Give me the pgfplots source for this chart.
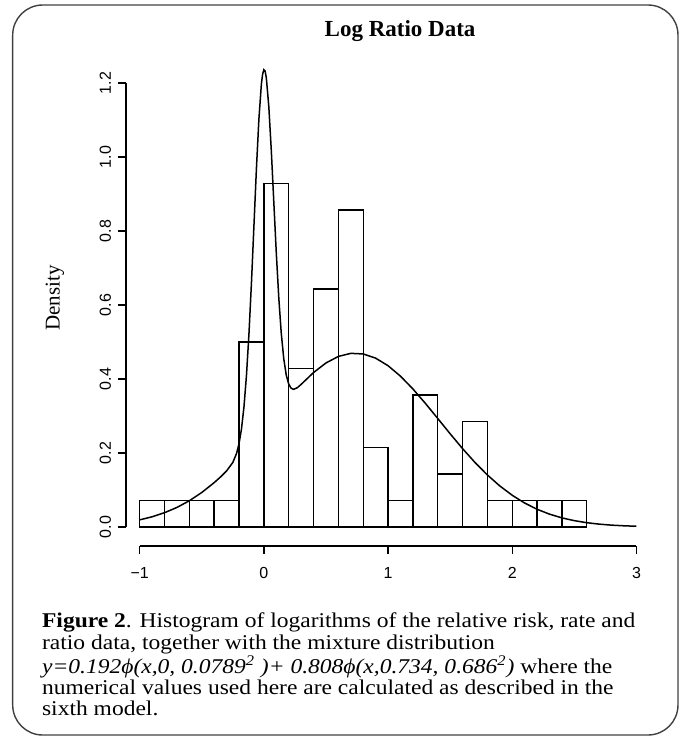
\documentclass[border=0pt]{standalone}
\usepackage{fontspec}
\setmainfont{Liberation Serif}
\newfontfamily\captionserif{Liberation Serif}[FakeStretch=1.12]
\newfontfamily\ticksans{Liberation Sans}
\usepackage{pgfplots}
\pgfplotsset{compat=1.18}

\begin{document}
\begin{tikzpicture}
\useasboundingbox (0,0) rectangle (340.5pt,-368pt);
% frame round the figure and its caption
\draw[rounded corners=15pt, line width=0.7pt, black!75] (6.35pt,-2.5pt) rectangle (339pt,-367.5pt);

\begin{axis}[
  at={(63pt,-273pt)}, anchor=south west,
  x=62.1pt, y=185pt,
  xmin=-1.11, xmax=3.11, ymin=-0.0514, ymax=1.29,
  clip=false,
  axis lines=left,
  axis line style={draw=none},
  tick align=outside,
  major tick length=4pt,
  every tick/.style={black, line width=0.75pt},
  xtick={-1,0,1,2,3},
  xticklabels={−1,0,1,2,3},
  ytick={0,0.2,0.4,0.6,0.8,1.0,1.2},
  yticklabels={0.0,0.2,0.4,0.6,0.8,1.0,1.2},
  ticklabel style={font=\ticksans\fontsize{8}{9.6}\selectfont},
  yticklabel style={rotate=90, anchor=south},
  xticklabel style={anchor=north, yshift=-3pt},
  ylabel={Density},
  ylabel style={at={(axis description cs:-0.1355,0.5)}, anchor=center,
                font=\fontsize{10.5}{12}\selectfont},
  title={Log Ratio Data},
  every axis title/.style={at={(axis description cs:0.523,1.0262)}, anchor=base,
               font=\bfseries\fontsize{11.5}{13}\selectfont},
]
% histogram, density = count/14 (n = 70, bin width 0.2)
\addplot[ybar interval, draw=black, fill=none, line width=0.7pt] coordinates {
  (-1,0.0714) (-0.8,0.0714) (-0.6,0.0714) (-0.4,0.0714) (-0.2,0.5)
  (0,0.9286) (0.2,0.4286) (0.4,0.6429) (0.6,0.8571) (0.8,0.2143)
  (1.0,0.0714) (1.2,0.3571) (1.4,0.1429) (1.6,0.2857) (1.8,0.0714)
  (2.0,0.0714) (2.2,0.0714) (2.4,0.0714) (2.6,0.0714)
};
% mixture density
\addplot[black, line width=0.75pt] coordinates {
  (-1,0.0193) (-0.9,0.0275) (-0.8,0.0386) (-0.7,0.0528) (-0.6,0.0709)
  (-0.5,0.0932) (-0.4,0.1199) (-0.35,0.1349) (-0.3,0.1516) (-0.25,0.1744)
  (-0.22,0.1986) (-0.2,0.2251) (-0.18,0.2654) (-0.16,0.3252) (-0.14,0.4098)
  (-0.12,0.5219) (-0.1,0.6592) (-0.08,0.8130) (-0.06,0.9675) (-0.04,1.1023)
  (-0.02,1.1969) (-0.01,1.2240) (0,1.2359) (0.01,1.2323) (0.02,1.2135)
  (0.04,1.1354) (0.06,1.0170) (0.08,0.8789) (0.1,0.7414) (0.12,0.6202)
  (0.14,0.5241) (0.16,0.4553) (0.18,0.4111) (0.2,0.3862) (0.22,0.3748)
  (0.24,0.3721) (0.27,0.3766) (0.3,0.3854) (0.4,0.4174) (0.5,0.4433)
  (0.6,0.4610) (0.7,0.4693) (0.8,0.4677) (0.9,0.4563) (1.0,0.4359)
  (1.1,0.4076) (1.2,0.3731) (1.3,0.3343) (1.4,0.2933) (1.5,0.2519)
  (1.6,0.2118) (1.7,0.1743) (1.8,0.1405) (1.9,0.1108) (2.0,0.0856)
  (2.1,0.0647) (2.2,0.0479) (2.3,0.0347) (2.4,0.0246) (2.5,0.0171)
  (2.6,0.0116) (2.7,0.0077) (2.8,0.0050) (2.9,0.0032) (3.0,0.0020)
};
% R style detached axis lines
\draw[line width=0.75pt] (axis cs:-1,-0.0514) -- (axis cs:3,-0.0514);
\draw[line width=0.75pt] (axis cs:-1.11,0) -- (axis cs:-1.11,1.2);
\end{axis}

\node[anchor=north west, align=left, inner sep=0pt,
      font=\captionserif\fontsize{10.5}{10.6}\selectfont] at (20.85pt,-306.4pt)
  {\textbf{Figure 2}. Histogram of logarithms of the relative risk, rate and\\
   ratio data, together with the mixture distribution\\
   \textit{y=0.192ϕ(x,0, 0.0789\textsuperscript{2} )+ 0.808ϕ(x,0.734, 0.686\textsuperscript{2})} where the\\
   numerical values used here are calculated as described in the\\
   sixth model.};
\end{tikzpicture}
\end{document}
